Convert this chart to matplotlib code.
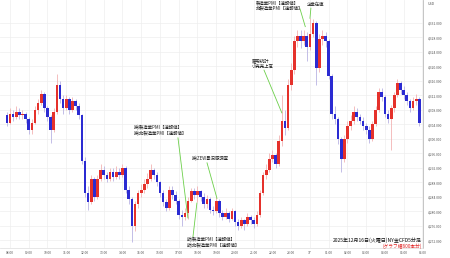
import matplotlib
matplotlib.use("Agg")
import matplotlib.pyplot as plt

plt.rcParams['font.family'] = ['Noto Sans CJK JP', 'DejaVu Sans']

# NY gold, 10-minute candles starting at 07:50 (hours, 24+ = next day)
start_hour = 7 + 50 / 60
step_hour = 10 / 60
first_open = 4306.5

close = [
    4304.5, 4307.0, 4306.0, 4307.5, 4306.5, 4307.0, 4305.5, 4302.5, 4304.5, 4308.0,
    4310.0, 4312.5, 4308.5, 4306.0, 4302.5, 4307.5, 4315.0, 4311.0, 4308.5, 4311.0,
    4308.0, 4310.5, 4309.0, 4306.5, 4294.0, 4285.0, 4282.5, 4289.0, 4284.0, 4289.0,
    4291.5, 4290.0, 4289.0, 4291.0, 4289.5, 4291.0, 4290.0, 4292.0, 4286.0, 4283.5,
    4276.0, 4282.0, 4285.0, 4286.0, 4287.5, 4289.0, 4291.5, 4290.0, 4288.0, 4285.0,
    4282.5, 4281.0, 4286.0, 4284.5, 4283.0, 4279.0, 4278.5, 4279.5, 4283.0, 4285.5,
    4284.5, 4285.5, 4284.0, 4282.0, 4283.5, 4280.5, 4280.0, 4283.0, 4279.5, 4278.5,
    4279.5, 4278.0, 4280.0, 4277.0, 4276.0, 4277.5, 4276.5, 4278.5, 4277.5, 4276.5,
    4279.0, 4285.0, 4290.0, 4291.5, 4294.5, 4295.5, 4293.0, 4299.5, 4305.0, 4303.0,
    4315.0, 4319.0, 4327.0, 4328.5, 4327.0, 4328.5, 4325.5, 4329.0, 4332.0, 4319.5,
    4327.5, 4328.5, 4327.0, 4317.5, 4307.0, 4305.5, 4300.0, 4294.5, 4300.0, 4303.5,
    4305.0, 4307.5, 4306.0, 4305.0, 4303.5, 4302.5, 4300.0, 4304.0, 4308.0, 4313.0,
    4311.5, 4307.0, 4305.5, 4308.5, 4312.0, 4315.5, 4313.5, 4312.0, 4310.5, 4308.5,
    4310.5, 4311.0, 4304.5,
]
high = [
    4307.5, 4308.5, 4308.0, 4309.0, 4308.5, 4308.0, 4307.5, 4306.0, 4305.5, 4309.0,
    4311.0, 4313.5, 4313.0, 4309.0, 4306.5, 4308.5, 4318.0, 4316.0, 4312.0, 4312.0,
    4311.5, 4311.5, 4311.0, 4310.0, 4307.0, 4295.0, 4287.0, 4290.0, 4289.5, 4290.0,
    4293.0, 4292.5, 4291.0, 4292.0, 4292.0, 4292.5, 4292.0, 4293.0, 4292.5, 4287.0,
    4284.0, 4283.0, 4286.0, 4287.5, 4289.0, 4290.5, 4293.0, 4292.0, 4291.0, 4288.5,
    4286.0, 4283.5, 4287.0, 4287.0, 4285.5, 4283.5, 4280.5, 4281.0, 4284.0, 4286.5,
    4286.5, 4287.0, 4286.0, 4285.0, 4284.5, 4284.0, 4281.5, 4284.0, 4283.5, 4280.5,
    4281.0, 4280.0, 4281.0, 4280.5, 4278.0, 4278.5, 4278.0, 4279.5, 4279.0, 4278.5,
    4280.0, 4286.0, 4291.0, 4293.0, 4296.0, 4297.0, 4296.0, 4301.0, 4312.0, 4308.0,
    4316.5, 4321.0, 4328.5, 4330.0, 4330.0, 4330.0, 4329.5, 4333.5, 4333.0, 4332.5,
    4329.0, 4330.0, 4329.5, 4327.5, 4318.0, 4309.0, 4306.0, 4300.5, 4301.0, 4305.0,
    4306.5, 4309.0, 4308.5, 4307.0, 4306.0, 4304.5, 4303.5, 4305.0, 4309.0, 4314.0,
    4314.0, 4312.0, 4308.0, 4309.5, 4313.0, 4316.5, 4316.0, 4314.5, 4313.0, 4311.0,
    4311.5, 4312.5, 4311.5,
]
low = [
    4303.5, 4304.0, 4305.0, 4305.5, 4305.5, 4305.5, 4304.5, 4301.5, 4301.5, 4304.0,
    4307.0, 4309.5, 4307.5, 4305.0, 4299.0, 4302.0, 4307.0, 4310.0, 4307.0, 4308.0,
    4307.0, 4307.5, 4308.0, 4305.5, 4293.0, 4284.0, 4280.5, 4282.0, 4283.0, 4283.5,
    4288.5, 4289.0, 4288.0, 4288.5, 4288.5, 4289.0, 4289.0, 4289.5, 4285.0, 4282.0,
    4271.5, 4274.5, 4281.0, 4284.0, 4285.0, 4286.5, 4288.5, 4289.0, 4287.0, 4284.0,
    4281.5, 4280.0, 4280.5, 4283.5, 4282.0, 4278.0, 4276.0, 4277.5, 4278.0, 4282.5,
    4283.5, 4282.5, 4283.0, 4281.0, 4281.0, 4279.5, 4279.0, 4279.5, 4278.5, 4277.5,
    4278.0, 4277.0, 4277.5, 4276.0, 4275.0, 4275.5, 4275.0, 4276.0, 4276.5, 4275.5,
    4276.0, 4278.5, 4284.5, 4289.0, 4291.0, 4293.5, 4292.0, 4292.5, 4298.0, 4301.0,
    4302.5, 4313.5, 4318.0, 4325.5, 4325.0, 4326.0, 4321.5, 4324.5, 4328.0, 4315.0,
    4318.5, 4326.0, 4325.5, 4316.5, 4305.5, 4304.0, 4298.5, 4291.0, 4293.5, 4299.0,
    4302.5, 4304.0, 4305.0, 4304.0, 4302.5, 4301.5, 4299.0, 4299.5, 4303.5, 4307.5,
    4310.5, 4306.0, 4304.5, 4297.0, 4307.5, 4311.5, 4312.5, 4311.0, 4309.5, 4307.5,
    4308.0, 4309.5, 4303.5,
]

hour_ticks = list(range(8, 31))
hour_labels = ['17' if h == 24 else f'{h % 24:02d}:00' for h in hour_ticks]
price_ticks = list(range(4272, 4333, 4))

UP, DOWN = '#e5312b', '#2b2bd2'
UP_WICK, DOWN_WICK = '#f2b3b3', '#b9b3e3'
GREEN = '#6ccf4a'

times = [start_hour + i * step_hour for i in range(len(close))]
opens = [first_open] + close[:-1]

fig = plt.figure(figsize=(4.5, 2.58), dpi=100)
ax = fig.add_axes([0, 10 / 258, 423 / 450, 248 / 258])

for t, o, c, h, l in zip(times, opens, close, high, low):
    up = c >= o
    ax.vlines(t, l, h, color=UP_WICK if up else DOWN_WICK, lw=0.6, zorder=2)
    ax.bar(t, abs(c - o) if c != o else 0.2, bottom=min(o, c), width=step_hour * 0.85,
           color=UP if up else DOWN, lw=0, zorder=3)

ax.set_xlim(7.467, 30.03)
ax.set_ylim(4269.9, 4338.35)
ax.set_xticks(hour_ticks)
ax.set_xticklabels(hour_labels)
ax.set_yticks(price_ticks)
ax.set_yticklabels([f'{p:,.3f}' for p in price_ticks])
ax.yaxis.tick_right()
ax.tick_params(axis='both', length=0, labelsize=2.4, colors='#555555', pad=3.5)
ax.tick_params(axis='x', pad=2.5)
ax.grid(True, color='#eeeeee', lw=0.5)
ax.set_axisbelow(True)
for side in ('top', 'left'):
    ax.spines[side].set_visible(False)
ax.spines['right'].set_color('#bbbbbb')
ax.spines['right'].set_linewidth(0.6)
ax.spines['bottom'].set_color('#dddddd')
ax.spines['bottom'].set_linewidth(0.5)

fig.text(428 / 450, 1 - 4 / 258, 'USD', fontsize=2.6, color='#555555', va='center')

fs = 3.2
kw = dict(fontsize=fs, color='#222222', linespacing=1.05, zorder=5)


def link(x0, y0, x1, y1):
    ax.plot([x0, x1], [y0, y1], color=GREEN, lw=0.6, zorder=4)


ax.text(21.12, 4338.1, '製造業PMI【速報値】\n非製造業PMI【速報値】', va='top', ha='left', **kw)
link(23.47, 4335.9, 23.75, 4331.0)
ax.text(23.82, 4337.0, '企業在庫', va='center', ha='left', **kw)
link(24.05, 4336.1, 24.0, 4333.3)

ax.text(20.907, 4322.3, '雇用統計\n小売売上高', va='top', ha='left', **kw)
link(21.55, 4319.0, 22.5, 4307.2)

ax.text(14.61, 4303.9, '独)製造業PMI【速報値】\n独)非製造業PMI【速報値】', va='top', ha='left', **kw)
link(16.96, 4300.3, 17.49, 4278.2)

ax.text(17.71, 4295.3, '独)ZEW景況感調査', va='top', ha='left', **kw)
link(18.51, 4293.4, 19.04, 4283.6)

ax.text(17.44, 4273.0, '欧)製造業PMI【速報値】\n欧)非製造業PMI【速報値】', va='top', ha='left', **kw)
link(17.76, 4273.0, 17.97, 4282.3)

ax.text(0.998, 1 - 240 / 248, '2025年12月16日(火曜日)NY金CFD5分足', transform=ax.transAxes,
        ha='right', va='center', fontsize=3.6, color='#111111', zorder=5)
ax.text(0.998, 1 - 246 / 248, '(グラフ幅600本分)', transform=ax.transAxes,
        ha='right', va='center', fontsize=3.4, color='#e02020', zorder=5)

fig.savefig('out.png', dpi=100)
